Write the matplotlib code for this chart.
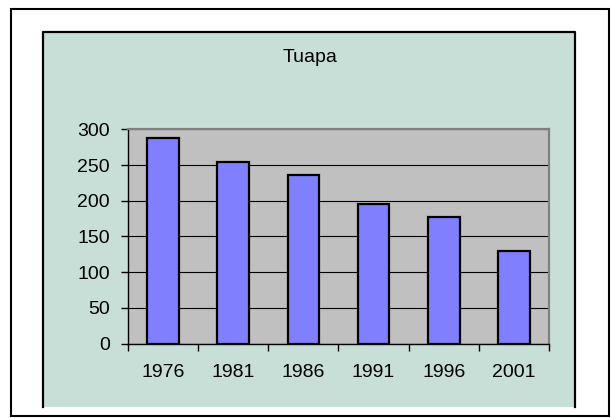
import matplotlib
matplotlib.use("Agg")
import matplotlib.pyplot as plt
from matplotlib.patches import Rectangle
from matplotlib.lines import Line2D
import numpy as np

# data
anos = ["1976", "1981", "1986", "1991", "1996", "2001"]
valores = [288, 254, 236, 196, 178, 129]
y_ticks = [0, 50, 100, 150, 200, 250, 300]

W, H = 611, 418
plt.rcParams['font.family'] = ['Liberation Sans', 'DejaVu Sans']

fig = plt.figure(figsize=(W / 100, H / 100), dpi=100)
fig.patch.set_facecolor("white")


def fx(px):
    return px / W


def fy(py):
    return 1 - py / H


# moldura externa
fig.patches.append(Rectangle((fx(11), fy(416)), fx(609) - fx(11), fy(9) - fy(416),
                             transform=fig.transFigure, facecolor="white",
                             edgecolor="black", linewidth=1.5, zorder=0))
# painel verde (sem borda inferior)
fig.patches.append(Rectangle((fx(43), fy(407)), fx(575) - fx(43), fy(32) - fy(407),
                             transform=fig.transFigure, facecolor="#C8DFD7",
                             edgecolor="none", zorder=1))
fig.lines.append(Line2D([fx(43), fx(43), fx(575), fx(575)],
                        [fy(407), fy(32), fy(32), fy(407)],
                        transform=fig.transFigure, color="black", linewidth=1.6, zorder=2))

# area do grafico
ax = fig.add_axes([fx(128), fy(343.5), fx(549) - fx(128), fy(129.5) - fy(343.5)])
ax.set_zorder(5)
ax.set_facecolor("#C0C0C0")
x = np.arange(len(anos))
ax.bar(x, valores, width=0.45, color="#8080FF", edgecolor="black", linewidth=1.6, zorder=3)

ax.set_xlim(-0.5, len(anos) - 0.5)
ax.set_ylim(0, 300)
ax.set_yticks(y_ticks)
ax.yaxis.grid(True, color="black", linewidth=0.8)
ax.set_axisbelow(True)

# ticks do eixo x entre categorias
ax.set_xticks(np.arange(len(anos) + 1) - 0.5)
ax.set_xticklabels([])
ax.set_xticks(x, minor=True)
ax.set_xticklabels(anos, minor=True)
ax.tick_params(axis="x", which="minor", length=0, pad=15, labelsize=14)
ax.tick_params(axis="x", which="major", length=5, width=1, direction="out")
ax.tick_params(axis="y", length=5, width=1, direction="out", labelsize=14, pad=8)

for s in ["left", "bottom"]:
    ax.spines[s].set_color("black")
    ax.spines[s].set_linewidth(1)
for s in ["top", "right"]:
    ax.spines[s].set_color("#808080")
    ax.spines[s].set_linewidth(1.6)

fig.text(fx(310), fy(57), "Tuapa", ha="center", va="center", fontsize=14)

fig.savefig("out.png", dpi=100)
